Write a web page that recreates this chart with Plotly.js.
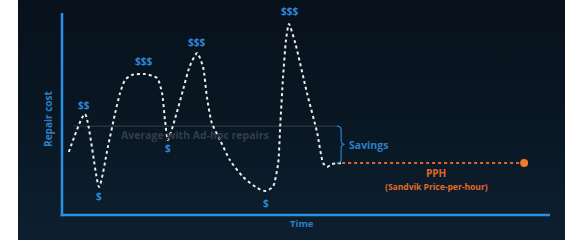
<!DOCTYPE html>
<html><head><meta charset="utf-8">
<script src="https://cdn.plot.ly/plotly-3.0.1.min.js"></script>
<style>html,body{margin:0;padding:0;background:#fff;}#chart{width:575px;height:240px;}</style>
</head><body><div id="chart"></div>
<script>
// Ad-hoc repair cost curve (time 0-100, cost 0-100)
const adhocTime = [1.4, 4.7, 7.6, 9.4, 10.9, 11.9, 12.9, 14.3, 17.0, 19.5, 20.5, 21.1, 21.7, 23.2, 24.8, 26.2, 27.7, 28.9, 29.7, 30.7, 32.4, 34.4, 37.1, 40.0, 41.6, 43.2, 44.3, 44.7, 45.3, 45.9, 46.5, 47.8, 50.2, 52.3, 53.5, 54.3, 55.3, 57.4];
const adhocCost = [31.2, 50.0, 13.9, 33.7, 50.5, 60.4, 66.8, 69.3, 69.8, 67.8, 60.4, 47.0, 37.1, 48.0, 61.9, 73.8, 80.2, 73.3, 58.4, 45.5, 37.1, 27.2, 18.8, 13.4, 11.9, 13.9, 25.7, 43.6, 68.3, 86.6, 94.6, 85.1, 60.4, 40.6, 25.7, 23.8, 25.2, 25.7];
// Cost labels
const labelText = ["$$", "$", "$$$", "$", "$$$", "$", "$$$"];
const labelTime = [4.5, 7.6, 16.8, 21.7, 27.5, 41.8, 46.7];
const labelCost = [54.5, 9.4, 76.2, 33.2, 85.6, 5.9, 101];
// Reference levels
const averageCost = 44;
const averageStart = 2.3, averageEnd = 56.3;
const pphCost = 25.7;
const pphStart = 57.4, pphEnd = 94.7;

const X0 = -9.016, X1 = 103.07, Y0 = -12.376, Y1 = 106.44;
const blue = '#2b8fe6', txtBlue = '#2f7fc6', orange = '#e0692a';
const font = 'Open Sans, Liberation Sans, sans-serif';

const traces = [
  {x:[X0,X1,X1,X0,X0], y:[Y0,Y0,Y1,Y1,Y0], mode:'lines', line:{width:0}, fill:'toself',
   fillgradient:{type:'vertical', colorscale:[[0,'#0d1f2f'],[0.5,'#091723'],[1,'#07111b']]}, hoverinfo:'skip', showlegend:false},
  {x:[averageStart, averageEnd], y:[averageCost, averageCost], mode:'lines', line:{color:'#36414c', width:1}, showlegend:false},
  {x:[pphStart, pphEnd], y:[pphCost, pphCost], mode:'lines', line:{color:orange, width:2, dash:'dot'}, showlegend:false},
  {x:[pphEnd], y:[pphCost], mode:'markers', marker:{color:'#f07a2c', size:8}, showlegend:false},
  {x:adhocTime, y:adhocCost, mode:'lines', line:{color:'#e8eef2', width:2, dash:'dot', shape:'spline', smoothing:0.6}, showlegend:false}
];

const ann = labelText.map((t,i)=>({x:labelTime[i], y:labelCost[i], text:t, showarrow:false,
  font:{family:font, size:10, color:'#2f86d4', weight:700}}));
ann.push({x:27.3, y:39.6, text:'Average with Ad-hoc repairs', showarrow:false, font:{family:font, size:10.5, color:'#333e49', weight:700}});
ann.push({x:62.9, y:34.7, text:'Savings', showarrow:false, font:{family:font, size:10.5, color:txtBlue, weight:700}});
ann.push({x:76.6, y:20.6, text:'PPH', showarrow:false, font:{family:font, size:10, color:orange, weight:700}});
ann.push({x:76.8, y:14.2, text:'(Sandvik Price-per-hour)', showarrow:false, font:{family:font, size:8.5, color:orange, weight:700}});
ann.push({x:49.2, y:-4.0, text:'Time', showarrow:false, font:{family:font, size:9.5, color:txtBlue, weight:700}});
ann.push({x:-2.9, y:47.5, text:'Repair cost', textangle:-90, showarrow:false, font:{family:font, size:10, color:txtBlue, weight:700}});

const shapes = [
  {type:'line', x0:pphEnd, x1:pphEnd, y0:1.5, y1:Y1, line:{color:'#11283b', width:1}, layer:'below'},
  {type:'line', x0:0, x1:0, y0:-0.6, y1:100, line:{color:blue, width:2.5}},
  {type:'line', x0:-0.3, x1:100, y0:0, y1:0, line:{color:blue, width:2.5}},
  {type:'path', path:'M 56.3 44 Q 57.2 44 57.2 42 L 57.2 37 Q 57.2 35 57.9 35 Q 57.2 35 57.2 33 L 57.2 27.7 Q 57.2 25.7 56.3 25.7',
   line:{color:'#2f7fc6', width:1.2}}
];

Plotly.newPlot('chart', traces, {
  width:575, height:240, margin:{l:18, r:10, t:0, b:0},
  paper_bgcolor:'#ffffff', plot_bgcolor:'#0a1622',
  xaxis:{range:[X0,X1], visible:false, fixedrange:true},
  yaxis:{range:[Y0,Y1], visible:false, fixedrange:true},
  annotations:ann, shapes:shapes, showlegend:false
}, {staticPlot:true});
</script></body></html>
